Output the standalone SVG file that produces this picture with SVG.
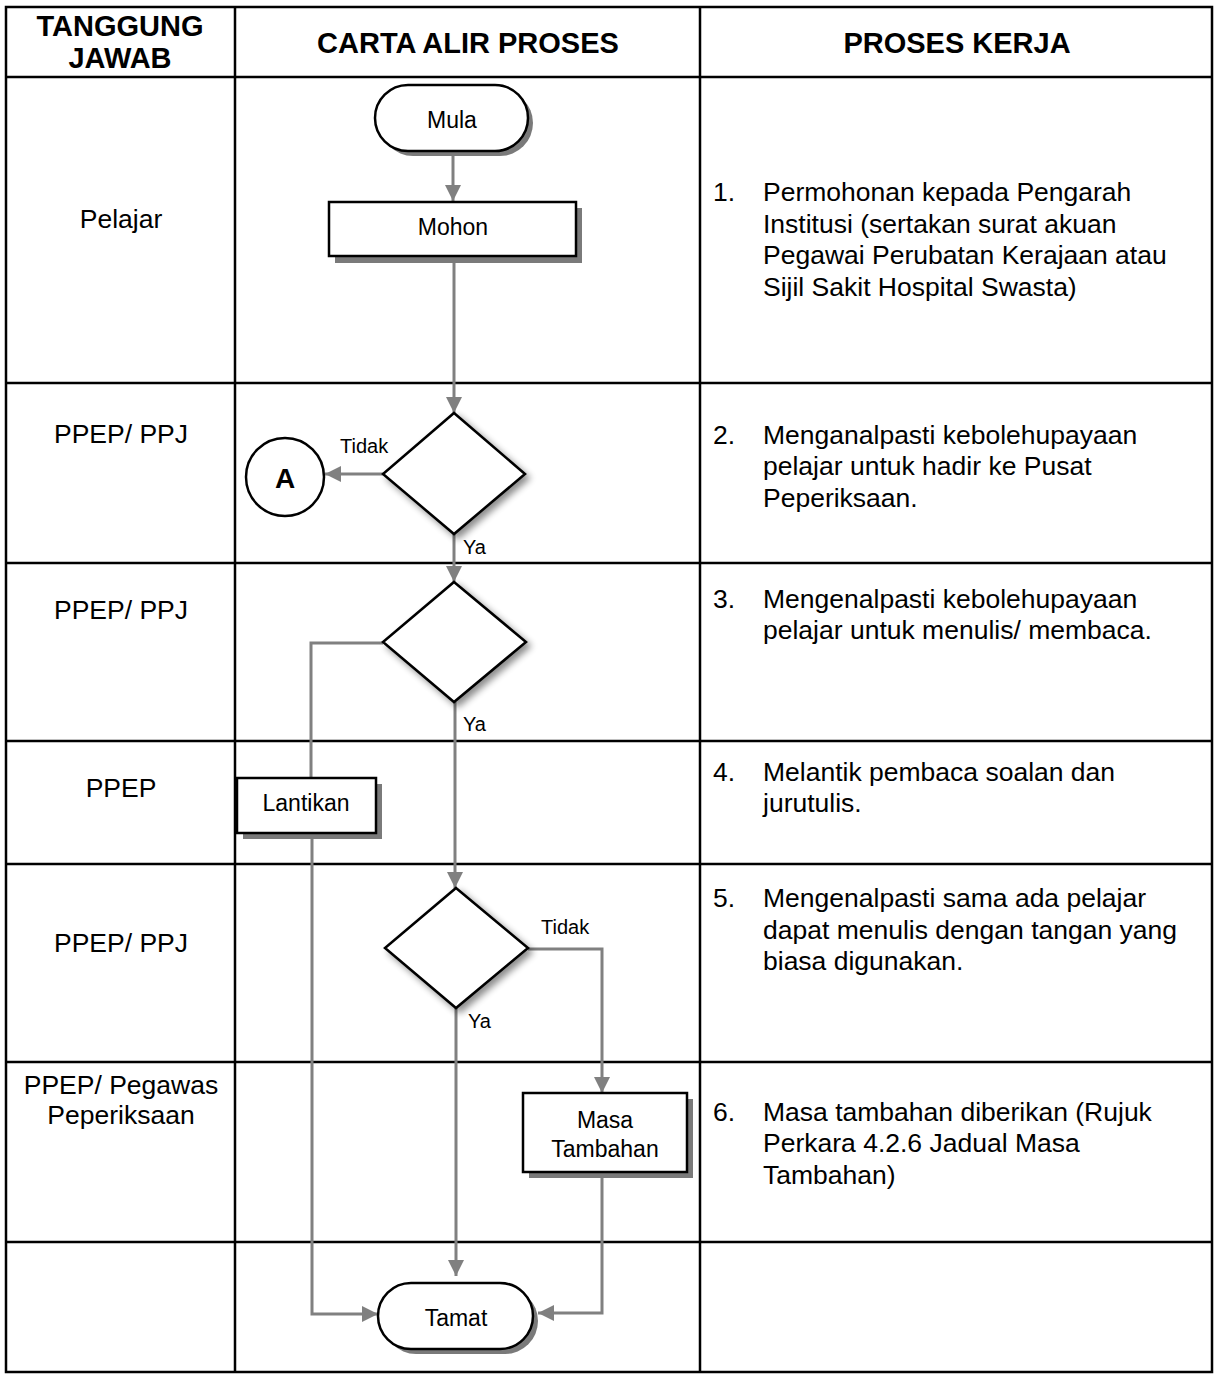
<svg xmlns="http://www.w3.org/2000/svg" width="1215" height="1376" viewBox="0 0 1215 1376">
  <defs>
    <style>
      text { font-family: "Liberation Sans", Arial, sans-serif; fill: #000; }
      .hdr { font-size: 29px; font-weight: bold; text-anchor: middle; }
      .who { font-size: 26.5px; text-anchor: middle; }
      .step { font-size: 26.5px; }
      .lbl { font-size: 23px; text-anchor: middle; }
      .yn { font-size: 20px; }
      .grid { stroke: #000; stroke-width: 2.5; fill: none; }
      .shape { fill: #fff; stroke: #000; stroke-width: 2.5; }
      .shadow { fill: #7a7a7a; filter: url(#fuzz); }
      .conn { fill: none; stroke: #808080; stroke-width: 3; }
    </style>
    <filter id="fuzz" x="-10%" y="-10%" width="120%" height="130%">
      <feGaussianBlur stdDeviation="0.7"/>
    </filter>
    <filter id="soft" x="-20%" y="-20%" width="150%" height="150%">
      <feGaussianBlur in="SourceAlpha" stdDeviation="3.5"/>
      <feOffset dx="4" dy="4" result="b"/>
      <feComponentTransfer><feFuncA type="linear" slope="0.45"/></feComponentTransfer>
      <feMerge><feMergeNode/><feMergeNode in="SourceGraphic"/></feMerge>
    </filter>
    <marker id="arrow" markerUnits="userSpaceOnUse" markerWidth="16" markerHeight="16" viewBox="0 0 16 16" refX="16" refY="8" orient="auto">
      <path d="M0,0 L16,8 L0,16 z" fill="#808080"/>
    </marker>
  </defs>

  <rect width="1215" height="1376" fill="#fff"/>

  <!-- table grid -->
  <g id="table">
    <rect class="grid" x="6" y="7" width="1206" height="1365"/>
    <line class="grid" x1="235" y1="7" x2="235" y2="1372"/>
    <line class="grid" x1="700" y1="7" x2="700" y2="1372"/>
    <line class="grid" x1="6" y1="77" x2="1212" y2="77"/>
    <line class="grid" x1="6" y1="383" x2="1212" y2="383"/>
    <line class="grid" x1="6" y1="563" x2="1212" y2="563"/>
    <line class="grid" x1="6" y1="741" x2="1212" y2="741"/>
    <line class="grid" x1="6" y1="864" x2="1212" y2="864"/>
    <line class="grid" x1="6" y1="1062" x2="1212" y2="1062"/>
    <line class="grid" x1="6" y1="1242" x2="1212" y2="1242"/>
  </g>

  <!-- column headings -->
  <g id="headings">
    <text class="hdr" x="120" y="36">TANGGUNG</text>
    <text class="hdr" x="120" y="68">JAWAB</text>
    <text class="hdr" x="468" y="53">CARTA ALIR PROSES</text>
    <text class="hdr" x="957" y="53">PROSES KERJA</text>
  </g>

  <!-- responsibility column -->
  <g id="roles">
    <text class="who" x="121" y="228">Pelajar</text>
    <text class="who" x="121" y="443">PPEP/ PPJ</text>
    <text class="who" x="121" y="619">PPEP/ PPJ</text>
    <text class="who" x="121" y="797">PPEP</text>
    <text class="who" x="121" y="952">PPEP/ PPJ</text>
    <text class="who" x="121" y="1094">PPEP/ Pegawas</text>
    <text class="who" x="121" y="1124">Peperiksaan</text>
  </g>

  <!-- work process column -->
  <g id="steps" class="step">
    <text x="713" y="201">1.</text>
    <text x="763" y="201">Permohonan kepada Pengarah</text>
    <text x="763" y="233">Institusi (sertakan surat akuan</text>
    <text x="763" y="264">Pegawai Perubatan Kerajaan atau</text>
    <text x="763" y="296">Sijil Sakit Hospital Swasta)</text>

    <text x="713" y="444">2.</text>
    <text x="763" y="444">Menganalpasti kebolehupayaan</text>
    <text x="763" y="475">pelajar untuk hadir ke Pusat</text>
    <text x="763" y="507">Peperiksaan.</text>

    <text x="713" y="608">3.</text>
    <text x="763" y="608">Mengenalpasti kebolehupayaan</text>
    <text x="763" y="639">pelajar untuk menulis/ membaca.</text>

    <text x="713" y="781">4.</text>
    <text x="763" y="781">Melantik pembaca soalan dan</text>
    <text x="763" y="812">jurutulis.</text>

    <text x="713" y="907">5.</text>
    <text x="763" y="907">Mengenalpasti sama ada pelajar</text>
    <text x="763" y="939">dapat menulis dengan tangan yang</text>
    <text x="763" y="970">biasa digunakan.</text>

    <text x="713" y="1121">6.</text>
    <text x="763" y="1121">Masa tambahan diberikan (Rujuk</text>
    <text x="763" y="1152">Perkara 4.2.6 Jadual Masa</text>
    <text x="763" y="1184">Tambahan)</text>
  </g>

  <!-- connectors -->
  <g id="connectors">
    <path class="conn" d="M453,151 V201" marker-end="url(#arrow)"/>
    <path class="conn" d="M454,256 V413" marker-end="url(#arrow)"/>
    <path class="conn" d="M383,474 H325" marker-end="url(#arrow)"/>
    <path class="conn" d="M454,534 V582" marker-end="url(#arrow)"/>
    <path class="conn" d="M383,643 H311 V778"/>
    <path class="conn" d="M312,833 V1314 H378" marker-end="url(#arrow)"/>
    <path class="conn" d="M455,702 V888" marker-end="url(#arrow)"/>
    <path class="conn" d="M528,949 H602 V1093" marker-end="url(#arrow)"/>
    <path class="conn" d="M456,1008 V1276" marker-end="url(#arrow)"/>
    <path class="conn" d="M602,1172 V1313 H538" marker-end="url(#arrow)"/>
    <text class="yn" x="340" y="453">Tidak</text>
    <text class="yn" x="463" y="554">Ya</text>
    <text class="yn" x="463" y="731">Ya</text>
    <text class="yn" x="541" y="934">Tidak</text>
    <text class="yn" x="468" y="1028">Ya</text>
  </g>

  <!-- flowchart nodes -->
  <g id="mula">
    <rect class="shadow" x="380" y="90" width="153" height="66" rx="33"/>
    <rect class="shape" x="375" y="85" width="153" height="66" rx="33"/>
    <text class="lbl" x="452" y="128">Mula</text>
  </g>

  <g id="mohon">
    <rect class="shadow" x="335" y="208" width="247" height="55"/>
    <rect class="shape" x="329" y="202" width="247" height="54"/>
    <text class="lbl" x="453" y="235">Mohon</text>
  </g>

  <g id="semak-hadir">
    <polygon class="shape" filter="url(#soft)" points="454,413 525,474 454,534 383,474"/>
  </g>

  <g id="penyambung-a">
    <circle class="shape" cx="285" cy="477" r="39"/>
    <text x="285" y="488" font-size="28" font-weight="bold" text-anchor="middle">A</text>
  </g>

  <g id="semak-menulis">
    <polygon class="shape" filter="url(#soft)" points="454,582 526,642 454,702 383,642"/>
  </g>

  <g id="lantikan">
    <rect class="shadow" x="243" y="784" width="139" height="55"/>
    <rect class="shape" x="237" y="778" width="139" height="55"/>
    <text class="lbl" x="306" y="811">Lantikan</text>
  </g>

  <g id="semak-tangan">
    <polygon class="shape" filter="url(#soft)" points="456,888 528,948 456,1008 385,948"/>
  </g>

  <g id="masa-tambahan">
    <rect class="shadow" x="529" y="1099" width="164" height="79"/>
    <rect class="shape" x="523" y="1093" width="164" height="79"/>
    <text class="lbl" x="605" y="1128">Masa</text>
    <text class="lbl" x="605" y="1157">Tambahan</text>
  </g>

  <g id="tamat">
    <rect class="shadow" x="383" y="1288" width="155" height="66" rx="33"/>
    <rect class="shape" x="378" y="1283" width="155" height="66" rx="33"/>
    <text class="lbl" x="456" y="1326">Tamat</text>
  </g>
</svg>
